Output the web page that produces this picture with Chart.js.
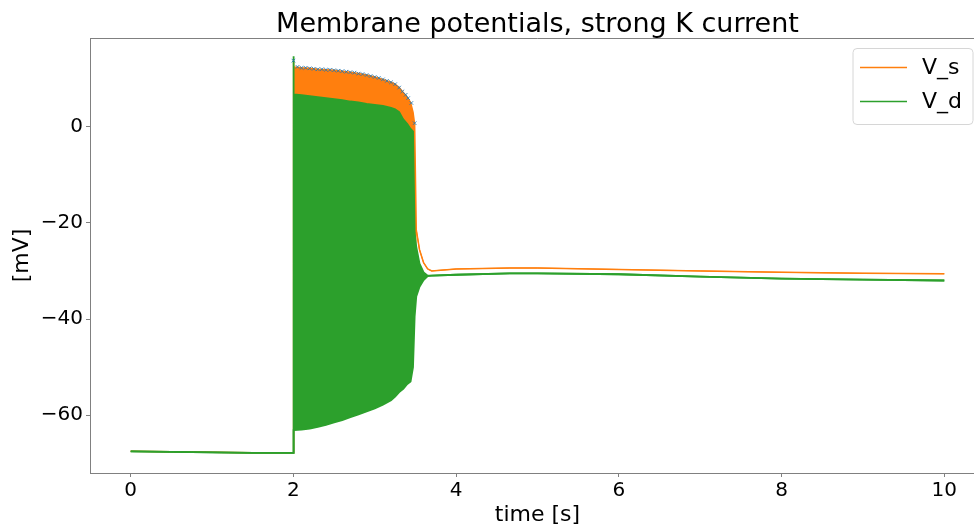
<!DOCTYPE html>
<html>
<head>
<meta charset="utf-8">
<title>Membrane potentials</title>
<script src="https://cdn.jsdelivr.net/npm/chart.js@4.4.0/dist/chart.umd.min.js"></script>
<style>
  html, body { margin: 0; padding: 0; background: #fff; overflow: hidden; }
  #wrap { width: 1000px; height: 528px; }
</style>
</head>
<body>
<div id="wrap"><canvas id="membraneChart" width="1000" height="528"></canvas></div>
<script>
// time [s], shared by the four envelope traces
const time = [0, 0.5, 1, 1.5, 1.995, 2.0, 2.005, 2.1, 2.2, 2.3, 2.4, 2.5, 2.6, 2.7, 2.8, 2.9, 3.0,
  3.1, 3.2, 3.25, 3.3, 3.35, 3.4, 3.44, 3.47, 3.49, 3.51, 3.55, 3.6, 3.65, 3.7, 4, 4.66, 5, 6, 7, 8, 9, 10];

// V_s (soma) upper / lower envelope [mV] - the spiking band between 2 and 3.5 s
const vsHigh = [-67.5, -67.6, -67.7, -67.8, -67.8, 13.7, 12.4, 12.2, 12.1, 11.9, 11.8, 11.7, 11.5, 11.3, 11.0, 10.7, 10.3,
  9.8, 9.2, 8.8, 8.1, 7.1, 6.1, 5.0, 3.0, 0.5, -21.5, -25.6, -28.3, -29.6, -30.0, -29.6, -29.4, -29.4, -29.7, -30.0, -30.3, -30.5, -30.6];
const vsLow = [-67.5, -67.6, -67.7, -67.8, -67.8, -60, -60, -60, -59.5, -59, -58.5, -58, -57.5, -57, -56.5, -56, -55.5,
  -55, -54, -53, -52, -51, -50, -49, -47, -30, -21.5, -25.6, -28.3, -29.6, -30.0, -29.6, -29.4, -29.4, -29.7, -30.0, -30.3, -30.5, -30.6];

// V_d (dendrite) upper / lower envelope [mV]
const vdHigh = [-67.5, -67.6, -67.7, -67.8, -67.8, 14.6, 6.7, 6.5, 6.3, 6.1, 5.9, 5.7, 5.5, 5.2, 5.0, 4.7, 4.5,
  4.3, 3.9, 3.6, 3.0, 1.5, 0.5, -0.5, -1.0, -22, -25, -28.5, -30.3, -31.0, -31.0, -30.8, -30.5, -30.5, -30.7, -31.2, -31.6, -31.8, -32.0];
const vdLow = [-67.5, -67.6, -67.7, -67.8, -67.8, -63.1, -63.1, -63.0, -62.8, -62.4, -62.0, -61.5, -61.0, -60.4, -59.8, -59.2, -58.6,
  -57.8, -56.9, -56.1, -55.2, -54.5, -53.5, -53.0, -50.0, -39.5, -35.3, -33.3, -31.9, -31.1, -31.0, -30.8, -30.5, -30.5, -30.7, -31.2, -31.6, -31.8, -32.0];

// detected spike peaks (blue x markers)
const spikeTimes = [2.0, 2.05, 2.1, 2.15, 2.2, 2.25, 2.3, 2.35, 2.4, 2.45, 2.5, 2.55, 2.6, 2.65, 2.7, 2.75, 2.8, 2.85,
  2.9, 2.95, 3.0, 3.05, 3.1, 3.15, 3.2, 3.25, 3.3, 3.34, 3.38, 3.41, 3.45, 3.49];
const spikeValues = [13.7, 12.4, 12.2, 12.2, 12.1, 12.0, 11.9, 11.9, 11.8, 11.8, 11.7, 11.6, 11.5, 11.4, 11.3, 11.2, 11.0, 10.9,
  10.7, 10.5, 10.3, 10.1, 9.8, 9.5, 9.2, 8.8, 8.1, 7.3, 6.6, 5.9, 4.9, 0.7];

const xTicks = [0, 2, 4, 6, 8, 10];
const yTicks = [-60, -40, -20, 0];

const FONT = 'DejaVu Sans';
const spineColor = '#808080';
const orange = '#ff7f0e';
const green = '#2ca02c';
const blue = 'rgba(31, 119, 180, 0.85)';

const pts = arr => time.map((t, i) => ({ x: t, y: arr[i] }));
const minus = v => String(v).replace('-', '\u2212');

// title centred over the axes, top/right spines and the legend box
const decorations = {
  id: 'decorations',
  afterDraw(chart) {
    const { ctx, chartArea: a } = chart;
    ctx.save();
    ctx.strokeStyle = spineColor;
    ctx.lineWidth = 1;
    ctx.beginPath();
    ctx.moveTo(a.left, a.top + 0.5);
    ctx.lineTo(a.right + 0.5, a.top + 0.5);
    ctx.lineTo(a.right + 0.5, a.bottom);
    ctx.stroke();

    ctx.fillStyle = '#000';
    ctx.font = '27px "' + FONT + '"';
    ctx.textAlign = 'center';
    ctx.textBaseline = 'alphabetic';
    ctx.fillText('Membrane potentials, strong K current', (a.left + a.right) / 2, 32);

    // legend
    const bx = 853, by = 48.5, bw = 120, bh = 76;
    ctx.fillStyle = 'rgba(255,255,255,0.8)';
    ctx.strokeStyle = '#d6d6d6';
    ctx.beginPath();
    ctx.roundRect(bx, by, bw, bh, 4);
    ctx.fill();
    ctx.stroke();
    const items = [['V_s', orange, 67.5], ['V_d', green, 101.5]];
    ctx.font = '22px "' + FONT + '"';
    ctx.textAlign = 'left';
    ctx.textBaseline = 'middle';
    items.forEach(([label, color, y]) => {
      ctx.strokeStyle = color;
      ctx.lineWidth = 1.5;
      ctx.beginPath();
      ctx.moveTo(860, y);
      ctx.lineTo(907, y);
      ctx.stroke();
      ctx.fillStyle = '#000';
      ctx.fillText(label, 922, y + 1);
    });
    ctx.restore();
  }
};

const ctx = document.getElementById('membraneChart').getContext('2d');
new Chart(ctx, {
  type: 'line',
  data: {
    datasets: [
      { label: 'V_s', data: pts(vsHigh), borderColor: orange, borderWidth: 1.5, pointRadius: 0, order: 3 },
      { label: 'V_s low', data: pts(vsLow), borderColor: orange, backgroundColor: orange, borderWidth: 1,
        pointRadius: 0, fill: '-1', order: 3 },
      { label: 'V_d', data: pts(vdHigh), borderColor: green, borderWidth: 1.8, pointRadius: 0, order: 1 },
      { label: 'V_d low', data: pts(vdLow), borderColor: green, backgroundColor: green, borderWidth: 1.8,
        pointRadius: 0, fill: '-1', order: 1 },
      { label: 'spikes', data: spikeTimes.map((t, i) => ({ x: t, y: spikeValues[i] })), showLine: false,
        pointStyle: 'crossRot', pointRadius: 2.5, pointBorderColor: blue, pointBorderWidth: 1, order: 0 }
    ]
  },
  options: {
    responsive: false,
    animation: false,
    events: [],
    layout: { padding: { top: 38, right: 15, bottom: 0, left: 0 } },
    plugins: { legend: { display: false }, title: { display: false }, tooltip: { enabled: false } },
    scales: {
      x: {
        type: 'linear', min: -0.5, max: 10.5,
        afterFit: s => { s.height = 55; },
        afterBuildTicks: s => { s.ticks = xTicks.map(v => ({ value: v })); },
        grid: { drawOnChartArea: false, drawTicks: true, tickLength: 4, color: spineColor },
        border: { color: spineColor, width: 1 },
        ticks: { color: '#000', padding: 2, maxRotation: 0, font: { family: FONT, size: 20 }, callback: v => minus(v) },
        title: { display: true, text: 'time [s]', color: '#000', padding: { top: 0, bottom: 0 }, font: { family: FONT, size: 22 } }
      },
      y: {
        type: 'linear', min: -72, max: 18.4,
        afterFit: s => { s.width = 90; },
        afterBuildTicks: s => { s.ticks = yTicks.map(v => ({ value: v })); },
        grid: { drawOnChartArea: false, drawTicks: true, tickLength: 4, color: spineColor },
        border: { color: spineColor, width: 1 },
        ticks: { color: '#000', padding: 3, font: { family: FONT, size: 20 }, callback: v => minus(v) },
        title: { display: true, text: '[mV]', color: '#000', padding: { top: 9, bottom: 0 }, font: { family: FONT, size: 22 } }
      }
    }
  },
  plugins: [decorations]
});
</script>
</body>
</html>
